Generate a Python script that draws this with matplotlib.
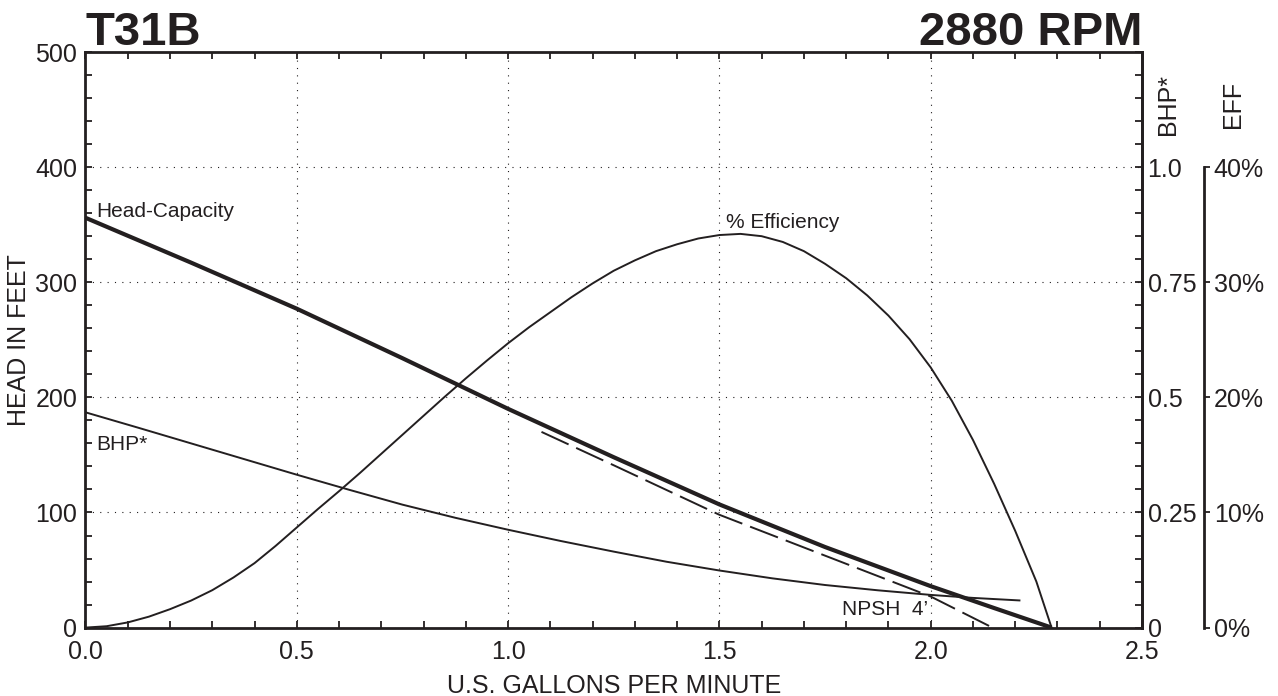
import matplotlib
matplotlib.use("Agg")
import matplotlib.pyplot as plt
from matplotlib.ticker import MultipleLocator, FixedLocator, FixedFormatter

plt.rcParams['font.family'] = ['Liberation Sans', 'DejaVu Sans']
plt.rcParams['lines.scale_dashes'] = False

INK = '#231f20'

# ---- data ----
head_q = [0.0, 0.25, 0.5, 0.75, 1.0, 1.25, 1.5, 1.75, 2.0, 2.15, 2.286]
head_ft = [356, 317, 277, 234, 190, 148, 107, 70, 36, 17, 0]

eff_q = [0.0, 0.05, 0.1, 0.15, 0.2, 0.25, 0.3, 0.35, 0.4, 0.45, 0.5, 0.55,
         0.6, 0.65, 0.7, 0.75, 0.8, 0.85, 0.9, 0.95, 1.0, 1.05, 1.1, 1.15,
         1.2, 1.25, 1.3, 1.35, 1.4, 1.45, 1.5, 1.55, 1.6, 1.65, 1.7, 1.75,
         1.8, 1.85, 1.9, 1.95, 2.0, 2.05, 2.1, 2.15, 2.2, 2.25, 2.286]
eff_pct = [0.0, 0.12, 0.45, 0.95, 1.6, 2.35, 3.25, 4.35, 5.6, 7.1, 8.7, 10.3,
           11.85, 13.45, 15.1, 16.75, 18.4, 20.05, 21.65, 23.2, 24.7, 26.1, 27.4, 28.7,
           29.9, 31.0, 31.9, 32.7, 33.3, 33.8, 34.1, 34.2, 34.0, 33.5, 32.7, 31.6,
           30.35, 28.85, 27.1, 25.05, 22.6, 19.7, 16.3, 12.5, 8.4, 4.0, 0.0]

bhp_q = [0.0, 0.125, 0.25, 0.375, 0.5, 0.625, 0.75, 0.875, 1.0, 1.125, 1.25,
         1.375, 1.5, 1.625, 1.75, 1.875, 2.0, 2.1, 2.21]
bhp_val = [0.4675, 0.434, 0.400, 0.366, 0.332, 0.299, 0.267, 0.2385, 0.2125,
           0.188, 0.165, 0.143, 0.124, 0.107, 0.0925, 0.081, 0.071, 0.0645, 0.059]

npsh_q = [1.079, 1.25, 1.5, 2.0, 2.146]
npsh_ft = [170, 141, 98, 27, 0]

x_ticks = [0.0, 0.5, 1.0, 1.5, 2.0, 2.5]
x_ticklabels = ['0.0', '0.5', '1.0', '1.5', '2.0', '2.5']
head_ticks = [0, 100, 200, 300, 400, 500]
bhp_ticks = [0, 0.25, 0.5, 0.75, 1.0]
bhp_ticklabels = ['0', '0.25', '0.5', '0.75', '1.0']
eff_ticks = [0, 10, 20, 30, 40]
eff_ticklabels = ['0%', '10%', '20%', '30%', '40%']

W, H = 1278, 696
fig = plt.figure(figsize=(W / 100, H / 100), dpi=100)
L, R, T, B = 85.5, 1142, 52, 627.6
ax = fig.add_axes([L / W, 1 - B / H, (R - L) / W, (B - T) / H])

ax.set_xlim(0, 2.5)
ax.set_ylim(0, 500)
ax.xaxis.set_major_locator(FixedLocator(x_ticks))
ax.xaxis.set_major_formatter(FixedFormatter(x_ticklabels))
ax.xaxis.set_minor_locator(MultipleLocator(0.1))
ax.yaxis.set_major_locator(FixedLocator(head_ticks))
ax.yaxis.set_minor_locator(MultipleLocator(20))
ax.tick_params(which='both', direction='in', length=5, width=1.3, color=INK,
               top=True, right=False, labelsize=18, labelcolor=INK)
ax.tick_params(axis='x', pad=9)
ax.tick_params(axis='y', pad=6)
for s in ax.spines.values():
    s.set_linewidth(2.0)
    s.set_color(INK)
ax.grid(which='major', linestyle=(0, (0.8, 4.5)), color=INK, linewidth=0.8)

# curves
ax.plot(head_q, head_ft, color=INK, lw=3.0, solid_capstyle='butt',
        solid_joinstyle='round', zorder=5)
ax.plot(npsh_q, npsh_ft, color=INK, lw=1.4, dashes=(21.5, 6), zorder=4)

# BHP axis (right spine)
ax2 = ax.twinx()
ax2.set_ylim(0, 1.25)
ax2.yaxis.set_major_locator(FixedLocator(bhp_ticks))
ax2.yaxis.set_major_formatter(FixedFormatter(bhp_ticklabels))
ax2.yaxis.set_minor_locator(MultipleLocator(0.05))
ax2.tick_params(which='both', direction='in', length=5, width=1.3, color=INK,
                labelsize=18, labelcolor=INK, pad=4)
for k in ['top', 'left', 'bottom']:
    ax2.spines[k].set_visible(False)
ax2.spines['right'].set_linewidth(2.0)
ax2.spines['right'].set_color(INK)
ax2.plot(bhp_q, bhp_val, color=INK, lw=1.4, solid_joinstyle='round')

# EFF axis (offset)
ax3 = ax.twinx()
ax3.set_ylim(0, 50)
ax3.spines['right'].set_position(('outward', (1204 - R) * 0.72))
ax3.spines['right'].set_bounds(0, 40)
ax3.spines['right'].set_linewidth(2.0)
ax3.spines['right'].set_color(INK)
for k in ['top', 'left', 'bottom']:
    ax3.spines[k].set_visible(False)
ax3.yaxis.set_major_locator(FixedLocator(eff_ticks))
ax3.yaxis.set_major_formatter(FixedFormatter(eff_ticklabels))
ax3.tick_params(direction='out', length=4, width=1.3, color=INK,
                labelsize=18, labelcolor=INK, pad=3)
ax3.plot(eff_q, eff_pct, color=INK, lw=1.4, solid_joinstyle='round')

# annotations
ax.text(0.025, 357, 'Head-Capacity', fontsize=15, color=INK, va='baseline', ha='left')
ax.text(0.026, 154, 'BHP*', fontsize=15, color=INK, va='baseline', ha='left')
ax.text(1.515, 347, '% Efficiency', fontsize=15, color=INK, va='baseline', ha='left')
ax.text(1.789, 11, 'NPSH  4\u2019', fontsize=15, color=INK, va='baseline', ha='left')

# titles and labels
fig.text(L / W, 1 - 45 / H, 'T31B', fontsize=34, fontweight='bold', color=INK,
         ha='left', va='baseline')
fig.text(R / W, 1 - 45 / H, '2880 RPM', fontsize=34, fontweight='bold', color=INK,
         ha='right', va='baseline')
fig.text(19 / W, 1 - 340 / H, 'HEAD IN FEET', fontsize=18, color=INK,
         rotation=90, ha='center', va='center')
fig.text((L + R) / 2 / W, 1 - 693 / H, 'U.S. GALLONS PER MINUTE', fontsize=18,
         color=INK, ha='center', va='baseline')
fig.text(1168 / W, 1 - 135 / H, 'BHP*', fontsize=18, color=INK, rotation=90,
         ha='center', va='bottom')
fig.text(1233 / W, 1 - 128 / H, 'EFF', fontsize=18, color=INK, rotation=90,
         ha='center', va='bottom')

fig.savefig('out.png', dpi=100, facecolor='white')
